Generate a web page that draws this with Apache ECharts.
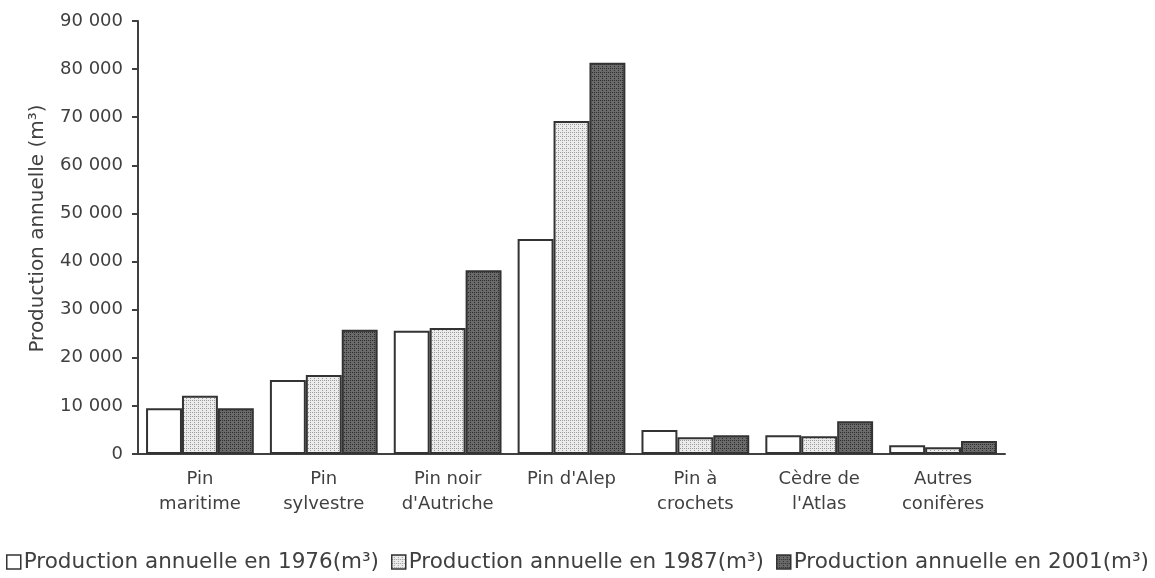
<!DOCTYPE html>
<html>
<head>
<meta charset="utf-8">
<script src="https://cdn.jsdelivr.net/npm/echarts@6/dist/echarts.min.js"></script>
<style>
  html, body { margin: 0; padding: 0; background: #fff; }
  #chart { width: 1155px; height: 578px; }
</style>
</head>
<body>
<div id="chart"></div>
<script>
// categories (essences)
var categories = ['Pin\nmaritime', 'Pin\nsylvestre', 'Pin noir\nd\'Autriche', 'Pin d\'Alep',
  'Pin à\ncrochets', 'Cèdre de\nl\'Atlas', 'Autres\nconifères']
var seriesNames = ['Production annuelle en 1976(m³)', 'Production annuelle en 1987(m³)', 'Production annuelle en 2001(m³)']
// annual production (m3)
var prod1976 = [9500, 15400, 25600, 44700, 5000, 3900, 1800]
var prod1987 = [12100, 16400, 26200, 69200, 3500, 3700, 1400]
var prod2001 = [9500, 25800, 38200, 81300, 3900, 6800, 2700]

// dotted fill patterns like the excel ones
function makePattern(bg, dot) {
  var c = document.createElement('canvas')
  c.width = 4
  c.height = 4
  var ctx = c.getContext('2d')
  ctx.fillStyle = bg
  ctx.fillRect(0, 0, 4, 4)
  ctx.fillStyle = dot
  ctx.fillRect(0, 0, 1, 1)
  ctx.fillRect(2, 2, 1, 1)
  ctx.fillRect(2, 0, 1, 1)
  return c
}
var lightFill = { image: makePattern('#ececec', '#9a9a9a'), repeat: 'repeat' }
var darkFill = { image: makePattern('#6a6a6a', '#2e2e2e'), repeat: 'repeat' }

var chart = echarts.init(document.getElementById('chart'))
var textColor = '#404040'
var font = 'DejaVu Sans, sans-serif'

function barSeries(name, data, fill) {
  return {
    name: name,
    type: 'bar',
    data: data,
    barGap: '0%',
    barCategoryGap: '13%',
    itemStyle: { color: fill, borderColor: '#333333', borderWidth: 2 }
  }
}

chart.setOption({
  animation: false,
  textStyle: { fontFamily: font },
  grid: { left: 138, right: 150, top: 21, bottom: 124 },
  legend: {
    left: 1,
    bottom: 0,
    itemWidth: 14,
    itemHeight: 14,
    itemGap: 12,
    textStyle: { fontSize: 21.5, color: textColor, padding: [0, 0, 0, -2] },
    data: seriesNames.map(function (n) {
      return { name: n, icon: 'rect', itemStyle: { borderColor: '#333333', borderWidth: 1.5 } }
    })
  },
  xAxis: {
    type: 'category',
    data: categories,
    axisLine: { lineStyle: { color: '#404040', width: 2 } },
    axisTick: { show: false },
    axisLabel: { color: textColor, fontSize: 18, lineHeight: 25, margin: 13, interval: 0 }
  },
  yAxis: {
    type: 'value',
    min: 0,
    max: 90000,
    interval: 10000,
    name: 'Production annuelle (m³)',
    nameLocation: 'middle',
    nameGap: 90,
    nameTextStyle: { color: textColor, fontSize: 20, padding: [0, 0, 0, 18] },
    splitLine: { show: false },
    axisLine: { show: true, lineStyle: { color: '#404040', width: 2 } },
    axisTick: { show: true, length: 6, lineStyle: { color: '#404040', width: 2 } },
    axisLabel: {
      color: textColor,
      fontSize: 18,
      margin: 15,
      formatter: function (v) {
        return String(v).replace(/\B(?=(\d{3})+(?!\d))/g, ' ')
      }
    }
  },
  series: [
    barSeries(seriesNames[0], prod1976, '#ffffff'),
    barSeries(seriesNames[1], prod1987, lightFill),
    barSeries(seriesNames[2], prod2001, darkFill)
  ]
})
</script>
</body>
</html>
